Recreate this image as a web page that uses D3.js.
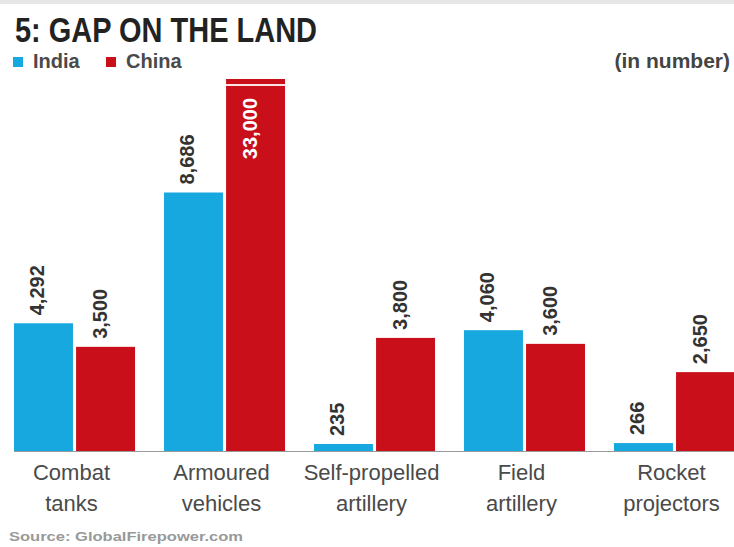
<!DOCTYPE html>
<html>
<head>
<meta charset="utf-8">
<script src="https://cdn.jsdelivr.net/npm/d3@7"></script>
<style>
  html, body { margin: 0; padding: 0; background: #fff; }
  svg { display: block; }
  text { font-family: "Liberation Sans", Arial, sans-serif; }
</style>
</head>
<body>
<svg id="chart" width="734" height="547"></svg>
<script>
// Land equipment holdings, India vs China
const categories = [
  ["Combat", "tanks"],
  ["Armoured", "vehicles"],
  ["Self-propelled", "artillery"],
  ["Field", "artillery"],
  ["Rocket", "projectors"]
];
const seriesNames = ["India", "China"];
const india = [4292, 8686, 235, 4060, 266];
const china = [3500, 33000, 3800, 3600, 2650];
// the axis stops here; taller bars are cut with a break mark
const axisCap = 12500;

const W = 734, H = 547;
const colors = { India: "#17a8e0", China: "#c9101a" };

const svg = d3.select("#chart");

// thin grey band along the top edge
svg.append("rect").attr("x", 0).attr("y", 0).attr("width", W).attr("height", 4).attr("fill", "#e6e6e6");

// title
svg.append("text")
  .attr("x", 15).attr("y", 42)
  .attr("font-family", "'Liberation Sans Narrow', 'Liberation Sans', sans-serif")
  .attr("font-weight", "bold").attr("font-size", 35)
  .attr("textLength", 302).attr("lengthAdjust", "spacingAndGlyphs")
  .attr("fill", "#222")
  .text("5: GAP ON THE LAND");

// legend
const legend = svg.append("g");
const legX = [13, 106];
seriesNames.forEach((name, i) => {
  legend.append("rect").attr("x", legX[i]).attr("y", 57).attr("width", 10).attr("height", 10)
    .attr("fill", colors[name]);
  legend.append("text").attr("x", legX[i] + 20).attr("y", 68)
    .attr("font-size", 20).attr("font-weight", "bold").attr("fill", "#4a4a4a")
    .text(name);
});

svg.append("text").attr("x", 730).attr("y", 68).attr("text-anchor", "end")
  .attr("font-size", 21).attr("font-weight", "bold").attr("fill", "#444")
  .text("(in number)");

// scales
const baseY = 451, topY = 79;
const x0 = d3.scaleBand().domain(d3.range(categories.length)).range([14, 735])
  .paddingInner(0.193).paddingOuter(0);
const x1 = d3.scaleBand().domain(seriesNames).range([0, x0.bandwidth()]).paddingInner(0.05);
const y = d3.scaleLinear().domain([0, axisCap]).range([baseY, topY]).clamp(true);

const rows = categories.map((c, i) => ({
  i,
  values: [{ key: "India", v: india[i] }, { key: "China", v: china[i] }]
}));

const groups = svg.append("g").selectAll("g").data(rows).join("g")
  .attr("transform", d => `translate(${x0(d.i)},0)`);

const bars = groups.selectAll("g").data(d => d.values).join("g");

bars.append("rect")
  .attr("x", d => x1(d.key))
  .attr("y", d => y(d.v))
  .attr("width", x1.bandwidth())
  .attr("height", d => baseY - y(d.v))
  .attr("fill", d => colors[d.key]);

// break mark on bars that exceed the axis
bars.filter(d => d.v > axisCap).append("rect")
  .attr("x", d => x1(d.key))
  .attr("y", y(axisCap) + 5)
  .attr("width", x1.bandwidth())
  .attr("height", 2)
  .attr("fill", "#fbe3e3");

// value labels, vertical
const fmt = d3.format(",");
bars.append("text")
  .attr("transform", d => {
    const cx = x1(d.key) + x1.bandwidth() / 2 + 1;
    const yy = d.v > axisCap ? y(axisCap) + 19 : y(d.v) - 8;
    return `translate(${cx},${yy}) rotate(-90)`;
  })
  .attr("text-anchor", d => d.v > axisCap ? "end" : "start")
  .attr("font-size", 20)
  .attr("font-family", "'Liberation Sans Narrow', 'Liberation Sans', sans-serif")
  .attr("font-weight", "bold")
  .attr("fill", d => d.v > axisCap ? "#fff" : "#333")
  .text(d => fmt(d.v));

// baseline
svg.append("line").attr("x1", 14).attr("x2", W).attr("y1", baseY + 0.5).attr("y2", baseY + 0.5)
  .attr("stroke", "#999").attr("stroke-width", 1);

// category labels
const catText = svg.append("g").selectAll("text").data(rows).join("text")
  .attr("x", d => x0(d.i) + x0.bandwidth() / 2 - 3)
  .attr("text-anchor", "middle")
  .attr("font-size", 22)
  .attr("fill", "#4a4a4a");
catText.append("tspan").attr("x", d => x0(d.i) + x0.bandwidth() / 2 - 3).attr("y", 480)
  .text(d => categories[d.i][0]);
catText.append("tspan").attr("x", d => x0(d.i) + x0.bandwidth() / 2 - 3).attr("y", 511)
  .text(d => categories[d.i][1]);

// source line
svg.append("text").attr("x", 9).attr("y", 541)
  .attr("font-size", 13).attr("font-weight", "bold").attr("fill", "#999")
  .attr("textLength", 234).attr("lengthAdjust", "spacingAndGlyphs")
  .text("Source: GlobalFirepower.com");
</script>
</body>
</html>
